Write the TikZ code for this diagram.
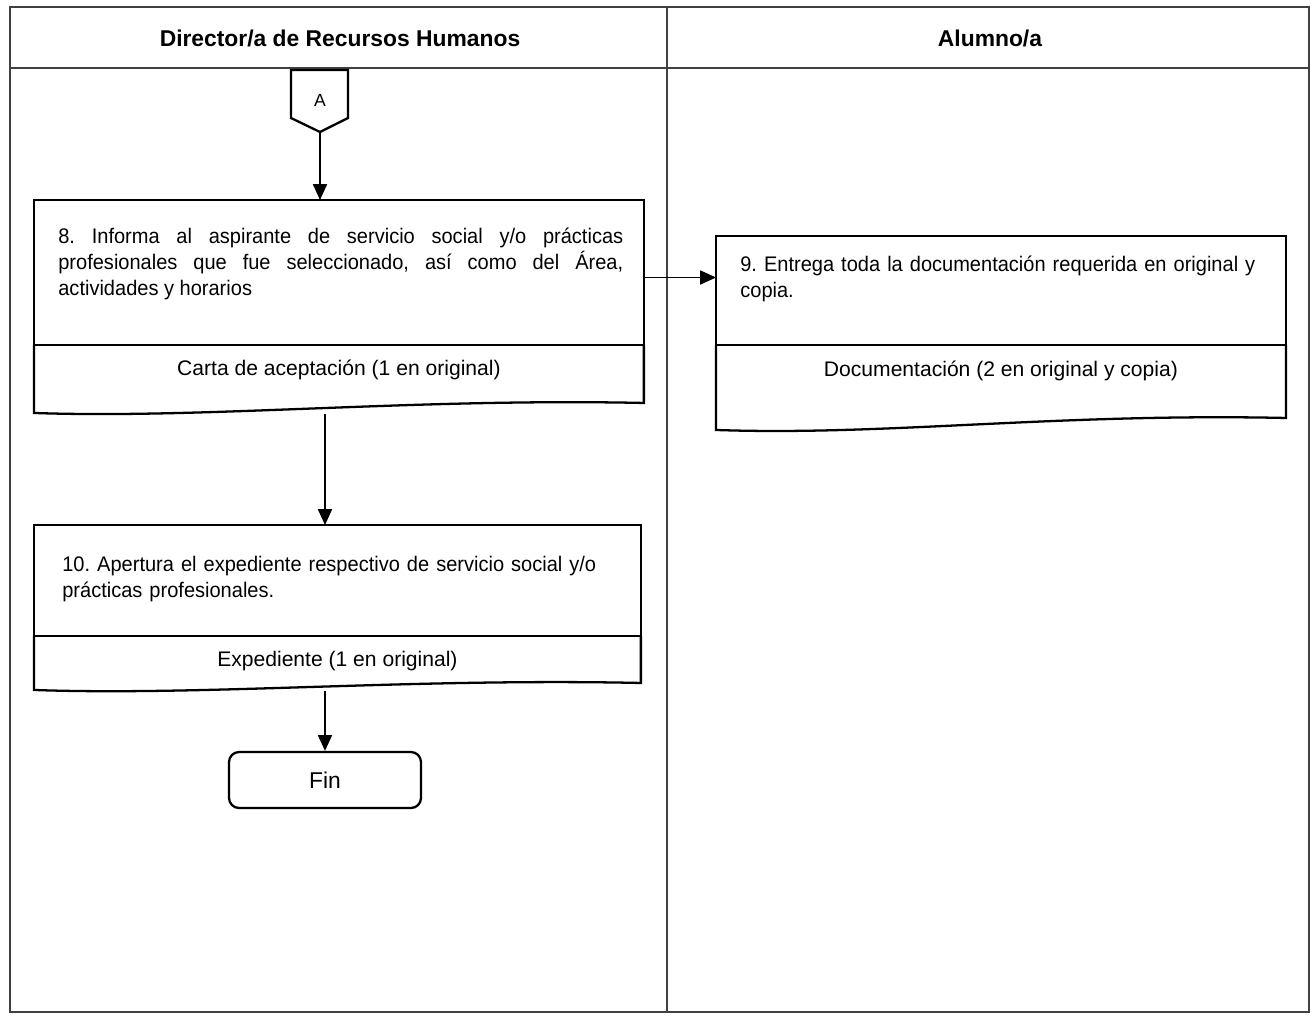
\documentclass[tikz,border=0pt]{standalone}
\usepackage{fontspec}
\setmainfont{Liberation Sans}
\newfontfamily\narrowfont{Liberation Sans}[FakeStretch=0.95]
\frenchspacing
\usetikzlibrary{arrows.meta,calc,positioning}

% lower part of a document box: sides and wavy bottom
% #1 node, #2 drop at the left end, #3 drop at the right end
\newcommand{\docshape}[3]{%
    \draw[boxline] (#1.north west) -- ($(#1.south west)+(0,#2)$)
        .. controls ($(#1.south west)+(170,#2+6)$) and ($(#1.south east)+(-230,#3-5)$)
        .. ($(#1.south east)+(0,#3)$) -- (#1.north east);}

\begin{document}
\begin{tikzpicture}[x=0.02cm,y=-0.02cm,
    lane/.style={draw=black!75, line width=1pt},
    lanehead/.style={font=\bfseries\fontsize{13}{15}\selectfont},
    boxline/.style={line width=1.3pt},
    stepbox/.style={draw, boxline, rectangle, inner sep=0pt, outer sep=0pt, anchor=north west},
    steptext/.style={inner sep=0pt, anchor=north west, font=\narrowfont\fontsize{12}{14.6}\selectfont},
    docpart/.style={inner sep=0pt, outer sep=0pt, anchor=north west, font=\fontsize{12}{14.6}\selectfont},
    endbox/.style={draw, boxline, rounded corners=0.2cm, minimum width=3.84cm, minimum height=1.12cm, font=\fontsize{13}{15}\selectfont},
    flow/.style={-{Triangle[length=9pt,width=8pt]}, line width=0.85pt}]
    \useasboundingbox (0,0) rectangle (1311,1014);

    % swimlanes
    \draw[lane] (10,7) rectangle (1309,1012);
    \draw[lane] (10,68) -- (1309,68);
    \draw[lane] (667,7) -- (667,1012);
    \node[lanehead] (hdRH) at (340,38) {Director/a de Recursos Humanos};
    \node[lanehead] (hdAl) at (990,38) {Alumno/a};

    % off-page connector
    \node[font=\fontsize{10}{12}\selectfont] (conA) at (320,100) {A};
    \draw[boxline] (291,70) -- (348,70) -- (348,118) -- (320,132) coordinate (conAtip) -- (291,118) -- cycle;

    % step 8
    \node[stepbox, minimum width=12.2cm, minimum height=2.9cm] (p8) at (34,200) {};
    \node[steptext, text width=11.3cm, align=justify] (t8) at (58,228)
        {8.\ Informa al aspirante de servicio social y/o prácticas\linebreak
         profesionales que fue seleccionado, así como del Área,\linebreak
         actividades y horarios};
    \node[docpart, minimum width=12.2cm, minimum height=1cm] (d8) at (p8.south west)
        {Carta de aceptación (1 en original)};
    \docshape{d8}{18}{8}

    % step 9
    \node[stepbox, minimum width=11.4cm, minimum height=2.18cm] (p9) at (716,236) {};
    \node[steptext, text width=11cm, align=left] (t9) at (740,256)
        {9. Entrega toda la documentación requerida en original y\\ copia.};
    \node[docpart, minimum width=11.4cm, minimum height=1.04cm] (d9) at (p9.south west)
        {Documentación (2 en original y copia)};
    \docshape{d9}{33}{21}

    % step 10
    \node[stepbox, minimum width=12.14cm, minimum height=2.22cm] (p10) at (34,525) {};
    \node[steptext, text width=11.5cm, align=left] (t10) at (62,556)
        {10. Apertura el expediente respectivo de servicio social y/o\\ prácticas profesionales.};
    \node[docpart, minimum width=12.14cm, minimum height=1cm] (d10) at (p10.south west)
        {Expediente (1 en original)};
    \docshape{d10}{4}{-3}

    \node[endbox] (fin) at (325,780) {Fin};

    % connectors
    \draw[flow] (conAtip) -- (conAtip |- p8.north);
    \draw[flow] ($(p8.east)+(0,5)$) -- ($(p8.east -| p9.west)+(0,5)$);
    \coordinate (w8) at (325,414);
    \draw[flow] (w8) -- (w8 |- p10.north);
    \coordinate (w10) at (325,691);
    \draw[flow] (w10) -- (w10 |- fin.north);
\end{tikzpicture}
\end{document}
